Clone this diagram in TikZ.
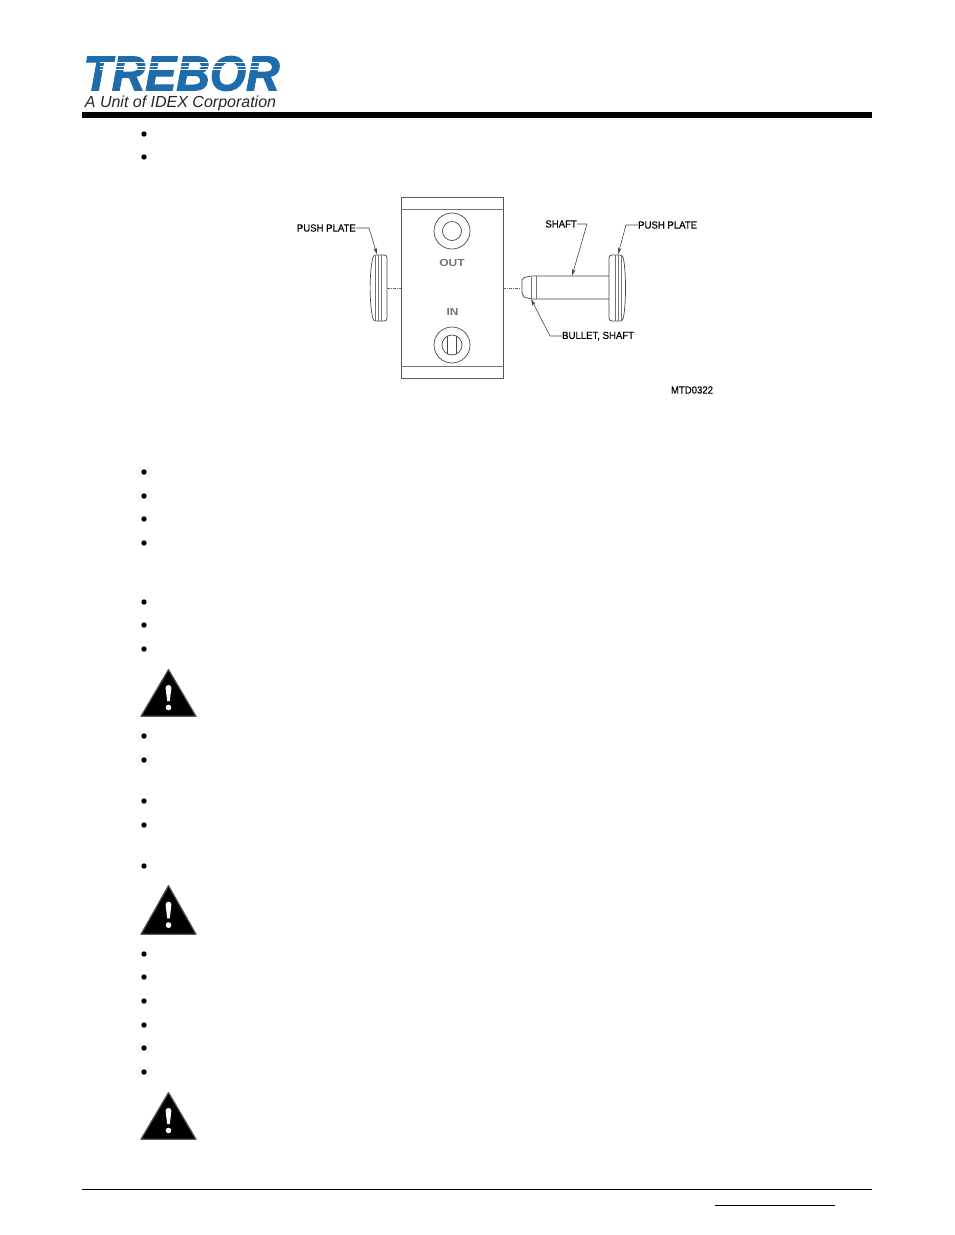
\documentclass[tikz,border=0pt]{standalone}
\usepackage{fontspec}
\setmainfont{Liberation Sans}
\newfontfamily\logofont[FakeBold=2.2]{Liberation Sans Bold Italic}
\newfontfamily\labelfont[FakeBold=0.35]{Liberation Sans}
\usepackage{tikz}
\usetikzlibrary{arrows.meta}
\definecolor{treborblue}{RGB}{30,108,172}
\definecolor{drawgray}{RGB}{70,70,70}
\tikzset{
    partlabel/.style={inner sep=0pt, xscale=0.93, font=\labelfont\fontsize{10.3}{12}\selectfont, text=black},
    panellabel/.style={inner sep=0pt, yscale=0.85, font=\bfseries\fontsize{12}{12}\selectfont, text=black!55},
    leader/.style={draw=drawgray, line width=0.6pt, -{Stealth[length=7pt,width=3.5pt]}},
    outline/.style={draw=drawgray, line width=0.7pt},
    faint/.style={draw=black!55, line width=0.6pt},
    centerline/.style={draw=black!60, line width=0.5pt, dash pattern=on 3pt off 1pt on 1pt off 1pt},
    bulletdot/.style={circle, fill=black, inner sep=0pt, minimum size=5.4pt},
}
\begin{document}
\begin{tikzpicture}[x=1pt, y=-1pt]
    \useasboundingbox (0,0) rectangle (954,1235);

    % logo
    \node (logo) [inner sep=0pt, text=treborblue, xscale=0.93, yscale=0.98, font=\logofont\fontsize{50}{50}\selectfont] at (181.5,73.5) {TREBOR};
    \foreach \ypos in {62.8,66,69.2} {
        \draw[white, line width=0.8pt] (100,\ypos) -- (268,\ypos);
    }
    \node (unit) [inner sep=0pt, text=black!85, font=\itshape\fontsize{16}{16}\selectfont] at (180.5,103) {A Unit of IDEX Corporation};

    % rules
    \fill[black] (82,112) rectangle (872,117.5);
    \draw[black, line width=0.8pt] (82,1189.5) -- (872,1189.5);
    \draw[black, line width=0.8pt] (715,1205.5) -- (835,1205.5);

    % bullets
    \foreach \ypos in {134,157,472,496,519,543,602,625,649,736,760,801,825,866,954,977,1001,1025,1048,1072} {
        \node[bulletdot] at (144,\ypos) {};
    }

    % warning triangles
    \foreach \ytop/\ybase in {668/717,884/935,1091/1140} {
        \begin{scope}[shift={(0,\ytop)}, yscale=(\ybase-\ytop)/49]
            \fill[black, draw=black!65, line width=1.2pt, line join=round] (168.5,1.5) -- (196,48.2) -- (141,48.2) -- cycle;
            \fill[white] (165.6,20) .. controls (165.6,16) and (171.4,16) .. (171.4,20) -- (169.8,33) -- (167.2,33) -- cycle;
            \fill[white] (168.5,39.5) circle (2.8);
        \end{scope}
    }

    % panel
    \draw[draw=black!65, line width=0.8pt] (401,197) rectangle (503,378);
    \draw[faint] (401,209) -- (503,209);
    \draw[faint] (401,366) -- (503,366);
    \draw[outline] (452,231) circle (18);
    \draw[outline] (452,231) circle (9.5);
    \draw[outline] (452,345) circle (18);
    \draw[outline] (452,345) circle (10);
    \draw[outline] (447.5,336) -- (447.5,354);
    \draw[outline] (456.5,336) -- (456.5,354);
    \node (outlabel) [panellabel] at (452,263) {OUT};
    \node (inlabel) [panellabel] at (452.5,312) {IN};

    % left plate
    \draw[outline] (376,255) -- (384,255) .. controls (386,255) and (387,256) .. (387,258)
        -- (387,318) .. controls (387,320) and (386,321) .. (384,321) -- (376,321)
        .. controls (373,321) and (372.5,318) .. (372,314)
        .. controls (369.5,300) and (369.5,276) .. (372,262)
        .. controls (372.5,258) and (373,255) .. (376,255) -- cycle;
    \draw[faint] (375,255.5) -- (375,320.5);
    \draw[faint] (378,255) -- (378,321);
    \draw[faint] (381,255) -- (381,321);
    \draw[centerline] (387,288) -- (401,288);

    % shaft and right plate
    \draw[centerline] (503,288) -- (521,288);
    \draw[outline] (609,276) -- (532,276) -- (524,277.5) -- (522,280) -- (522,293)
        -- (524,297) -- (532,299) -- (609,299);
    \draw[faint] (531,277) -- (531,299);
    \draw[faint] (536,276) -- (536,299);
    \draw[outline] (612,255) -- (620,255) .. controls (623,255) and (623.5,258) .. (624,262)
        .. controls (626,276) and (626,300) .. (624,314)
        .. controls (623.5,318) and (623,321) .. (620,321) -- (612,321)
        .. controls (610,321) and (609,320) .. (609,318)
        -- (609,258) .. controls (609,256) and (610,255) .. (612,255) -- cycle;
    \draw[faint] (615,255) -- (615,321);
    \draw[faint] (618,255) -- (618,321);
    \draw[faint] (621,256) -- (621,320);

    % part labels
    \node (plateleft) [partlabel, anchor=east] at (356,228) {PUSH PLATE};
    \node (shaft) [partlabel, anchor=east] at (577,224) {SHAFT};
    \node (plateright) [partlabel, anchor=west] at (638,225) {PUSH PLATE};
    \node (bullet) [partlabel, anchor=west] at (562,336) {BULLET, SHAFT};
    \node (drawno) [partlabel] at (692,390) {MTD0322};

    \coordinate (plateleft tip) at (377,254.5);
    \coordinate (shaft tip) at (572,276);
    \coordinate (plateright tip) at (618,254.5);
    \coordinate (bullet tip) at (531,299);

    \draw[leader] (plateleft.east) -- (369,228) -- (plateleft tip);
    \draw[leader] (shaft.east) -- (587,224) -- (shaft tip);
    \draw[leader] (plateright.west) -- (626,225) -- (plateright tip);
    \draw[leader] (bullet.west) -- (550,336) -- (bullet tip);
\end{tikzpicture}
\end{document}
